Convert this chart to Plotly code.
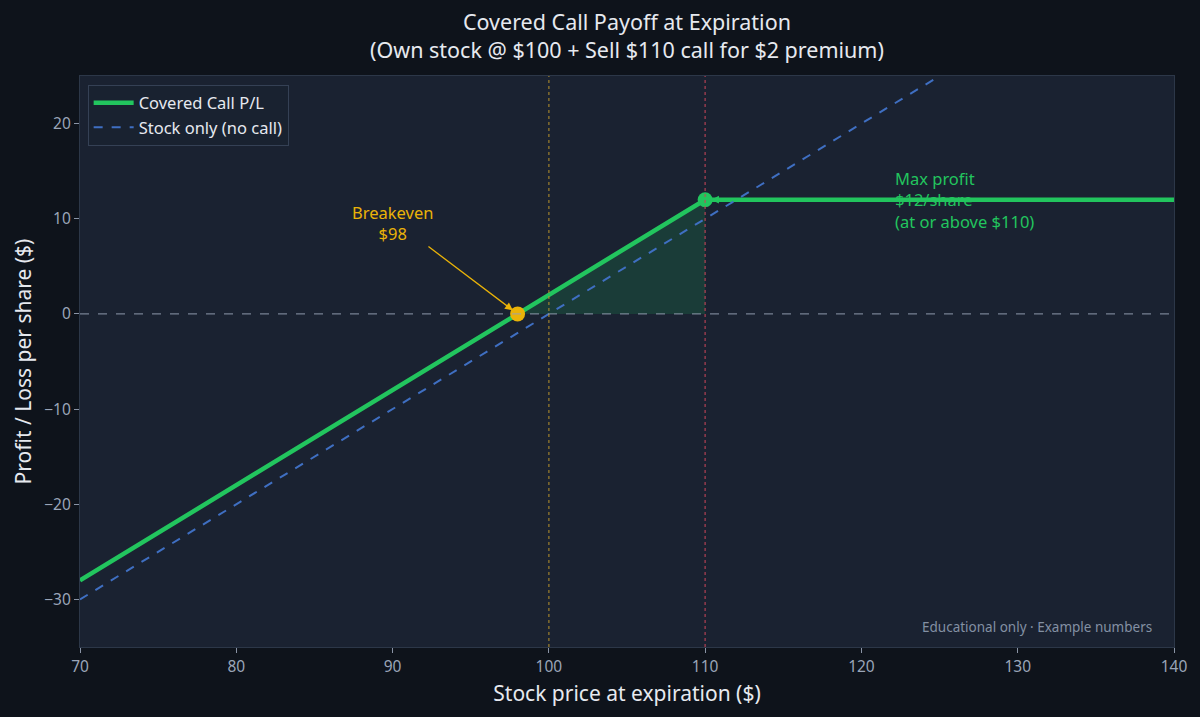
import plotly.graph_objects as go

# covered call: own stock @ 100, short 110 call for 2
cc_price = [70, 110, 140]
cc_pl = [-28, 12, 12]

stock_price = [70, 140]
stock_pl = [-30, 40]

shade_price = [98, 100, 110]
shade_pl = [0, 2, 12]

breakeven = [98, 0]
max_profit = [110, 12]
cost_basis = 100
strike = 110

font = "Noto Sans"
green = "#22c55e"
blue = "#3f6fc2"
gold = "#eab308"

fig = go.Figure()

fig.add_trace(go.Scatter(x=shade_price, y=shade_pl, mode="lines", line=dict(width=0),
                         fill="tozeroy", fillcolor="rgba(34,197,94,0.16)",
                         showlegend=False, hoverinfo="skip"))

fig.add_trace(go.Scatter(x=cc_price, y=cc_pl, mode="lines", name="Covered Call P/L",
                         line=dict(color=green, width=4.5)))
fig.add_trace(go.Scatter(x=stock_price, y=stock_pl, mode="lines", name="Stock only (no call)",
                         line=dict(color=blue, width=2, dash="dash")))

fig.add_trace(go.Scatter(x=[breakeven[0]], y=[breakeven[1]], mode="markers",
                         marker=dict(color=gold, size=15), showlegend=False))
fig.add_trace(go.Scatter(x=[max_profit[0]], y=[max_profit[1]], mode="markers",
                         marker=dict(color=green, size=15), showlegend=False))

fig.add_vline(x=cost_basis, line=dict(color="rgba(190,150,45,0.65)", width=1.5, dash="dot"))
fig.add_vline(x=strike, line=dict(color="rgba(200,70,90,0.7)", width=1.5, dash="dot"))
fig.add_hline(y=0, line=dict(color="rgba(150,160,180,0.75)", width=1.3, dash="dash"))

fig.add_annotation(x=breakeven[0], y=breakeven[1], ax=92.2, ay=7.2, axref="x", ayref="y",
                   xref="x", yref="y", text="", showarrow=True, arrowhead=2, arrowsize=1.2,
                   arrowwidth=1.3, arrowcolor=gold, standoff=6)
fig.add_annotation(x=90, y=9.6, xref="x", yref="y", text="Breakeven<br>$98", showarrow=False,
                   font=dict(color=gold, size=16.5, family=font), align="center")

fig.add_annotation(x=max_profit[0], y=max_profit[1], ax=122, ay=12, axref="x", ayref="y",
                   xref="x", yref="y", text="", showarrow=True, arrowhead=2, arrowsize=1.2,
                   arrowwidth=1.3, arrowcolor=green, standoff=6)
fig.add_annotation(x=122, y=12, xref="x", yref="y", xanchor="left",
                   text="Max profit<br>$12/share<br>(at or above $110)", showarrow=False,
                   font=dict(color=green, size=16.5, family=font), align="left")

fig.add_annotation(x=0.982, y=0.015, xref="paper", yref="paper", xanchor="right", yanchor="bottom",
                   text="Educational only · Example numbers", showarrow=False,
                   font=dict(color="#8390a3", size=13.5, family=font))

# title as a paper annotation so both lines sit inside the top margin
fig.add_annotation(x=0.5, y=1.071, xref="paper", yref="paper", xanchor="center", yanchor="middle",
                   text="Covered Call Payoff at Expiration<br>(Own stock @ $100 + Sell $110 call for $2 premium)",
                   showarrow=False, align="center",
                   font=dict(color="#e6e9ef", size=21.5, family=font))

axis_style = dict(showgrid=False, zeroline=False, showline=True, mirror=True,
                  linecolor="#2c3748", linewidth=1.2, ticks="outside", ticklen=5,
                  tickcolor="#8a94a6", tickfont=dict(color="#9aa5b8", size=15.5, family=font))

fig.update_layout(
    width=1200, height=717,
    paper_bgcolor="#0e131b",
    plot_bgcolor="#1a2231",
    margin=dict(l=80, r=26, t=76, b=70),
    xaxis=dict(range=[70, 140], dtick=10,
               title=dict(text="Stock price at expiration ($)", font=dict(color="#e6e9ef", size=21, family=font),
                          standoff=10),
               **axis_style),
    yaxis=dict(range=[-35, 25], dtick=10,
               title=dict(text="Profit / Loss per share ($)", font=dict(color="#e6e9ef", size=21, family=font),
                          standoff=6),
               **axis_style),
    legend=dict(x=0.007, y=0.985, xanchor="left", yanchor="top", itemwidth=40,
                bgcolor="rgba(26,34,49,0.9)", bordercolor="#354155", borderwidth=1,
                font=dict(color="#e6e9ef", size=16.5, family=font)),
    showlegend=True,
)

fig.write_html("out.html", config={"displayModeBar": False},
               post_script="document.body.style.margin='0';")
